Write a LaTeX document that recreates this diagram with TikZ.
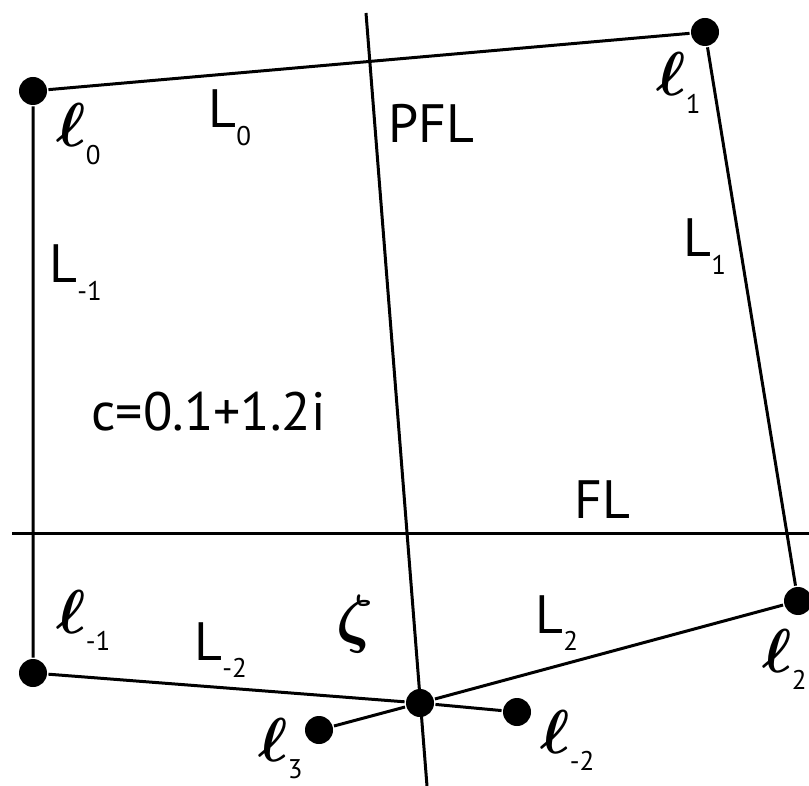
\documentclass[tikz,border=0pt]{standalone}
\usepackage{fontspec}
\setmainfont{PT Sans}
\newcommand{\lsub}[2]{{#1}\raisebox{-0.33em}{\fontsize{27}{27}\selectfont #2}}
\newcommand{\ellsub}[1]{\lsub{\scalebox{6.2}{\normalsize\boldmath$\ell$}}{#1}}
\begin{document}
\begin{tikzpicture}[
    x=1pt, y=-1pt, line width=3pt,
    dot/.style={circle, fill, inner sep=0pt, minimum size=28pt},
    lbl/.style={anchor=base west, inner sep=0pt, font=\fontsize{54}{60}\selectfont}
]
    \useasboundingbox (0,0) rectangle (809,786);

    % Points
    \node[dot] (l0) at (33,91) {};
    \node[dot] (l1) at (705,32) {};
    \node[dot] (l2) at (798,601) {};
    \node[dot] (lm1) at (33,673) {};
    \node[dot] (z) at (420,703) {};
    \node[dot] (l3) at (319,730) {};
    \node[dot] (lm2) at (517,712) {};

    % Line ends
    \coordinate (pfltop) at (366,13);
    \coordinate (pflbot) at (427,786);
    \coordinate (flleft) at (12,533);
    \coordinate (flright) at (809,533);

    % Lines
    \draw (l0) -- (l1) -- (l2);
    \draw (l0) -- (lm1) -- (z) -- (lm2);
    \draw (l3) -- (z) -- (l2);
    \draw (pfltop) -- (pflbot);
    \draw (flleft) -- (flright);

    % Point labels
    \node[lbl] (tl0) at (55,147) {\ellsub{0}};
    \node[lbl] (tl1) at (655,96) {\ellsub{1}};
    \node[lbl] (tl2) at (761,672) {\ellsub{2}};
    \node[lbl] (tlm1) at (55,633) {\ellsub{-1}};
    \node[lbl] (tl3) at (257,761) {\ellsub{3}};
    \node[lbl] (tlm2) at (539,753) {\ellsub{-2}};
    \node[lbl] (tz) at (335,640) {\scalebox{6.5}{\normalsize\boldmath$\zeta$}};

    % Line labels
    \node[lbl] (tL0) at (207,128) {\lsub{L}{0}};
    \node[lbl] (tL1) at (682,257) {\lsub{L}{1}};
    \node[lbl] (tL2) at (534,633) {\lsub{L}{2}};
    \node[lbl] (tLm1) at (48,283) {\lsub{L}{-1}};
    \node[lbl] (tLm2) at (193,660) {\lsub{L}{-2}};
    \node[lbl] (tpfl) at (387,143) {PFL};
    \node[lbl] (tfl) at (573,518) {FL};
    \node[lbl] (tc) at (90,430) {c=0.1+1.2i};

\end{tikzpicture}
\end{document}
